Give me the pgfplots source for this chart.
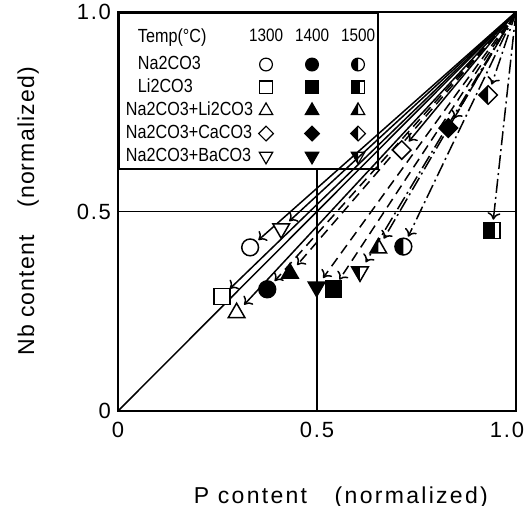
\documentclass[border=0pt]{standalone}
\usepackage{fontspec}
\setmainfont{Liberation Sans}
\newfontfamily\legfont[FakeStretch=0.85]{Liberation Sans}
\usepackage{pgfplots}
\pgfplotsset{compat=1.18}
\usetikzlibrary{arrows.meta}

% marks: open/filled via fill colour, h* = left half filled
\pgfdeclareplotmark{hcirc}{%
  \pgfpathmoveto{\pgfqpoint{0pt}{\pgfplotmarksize}}%
  \pgfpatharc{90}{270}{\pgfplotmarksize}%
  \pgfpathclose
  \pgfusepathqfill
  \pgfpathcircle{\pgfpointorigin}{\pgfplotmarksize}%
  \pgfusepathqstroke
}
\pgfdeclareplotmark{hsq}{%
  \pgfpathrectangle{\pgfqpoint{-\pgfplotmarksize}{-\pgfplotmarksize}}{\pgfqpoint{1.3\pgfplotmarksize}{2\pgfplotmarksize}}%
  \pgfusepathqfill
  \pgfpathrectangle{\pgfqpoint{-\pgfplotmarksize}{-\pgfplotmarksize}}{\pgfqpoint{2\pgfplotmarksize}{2\pgfplotmarksize}}%
  \pgfusepathqstroke
}
\pgfdeclareplotmark{tri}{%
  \pgfpathmoveto{\pgfqpoint{0pt}{1.2\pgfplotmarksize}}%
  \pgfpathlineto{\pgfqpoint{-1.04\pgfplotmarksize}{-0.6\pgfplotmarksize}}%
  \pgfpathlineto{\pgfqpoint{1.04\pgfplotmarksize}{-0.6\pgfplotmarksize}}%
  \pgfpathclose
  \pgfusepathqfillstroke
}
\pgfdeclareplotmark{htri}{%
  \pgfpathmoveto{\pgfqpoint{0pt}{1.2\pgfplotmarksize}}%
  \pgfpathlineto{\pgfqpoint{-1.04\pgfplotmarksize}{-0.6\pgfplotmarksize}}%
  \pgfpathlineto{\pgfqpoint{0pt}{-0.6\pgfplotmarksize}}%
  \pgfpathclose
  \pgfusepathqfill
  \pgfpathmoveto{\pgfqpoint{0pt}{1.2\pgfplotmarksize}}%
  \pgfpathlineto{\pgfqpoint{-1.04\pgfplotmarksize}{-0.6\pgfplotmarksize}}%
  \pgfpathlineto{\pgfqpoint{1.04\pgfplotmarksize}{-0.6\pgfplotmarksize}}%
  \pgfpathclose
  \pgfusepathqstroke
}
\pgfdeclareplotmark{dtri}{%
  \pgfpathmoveto{\pgfqpoint{0pt}{-1.2\pgfplotmarksize}}%
  \pgfpathlineto{\pgfqpoint{-1.04\pgfplotmarksize}{0.6\pgfplotmarksize}}%
  \pgfpathlineto{\pgfqpoint{1.04\pgfplotmarksize}{0.6\pgfplotmarksize}}%
  \pgfpathclose
  \pgfusepathqfillstroke
}
\pgfdeclareplotmark{hdtri}{%
  \pgfpathmoveto{\pgfqpoint{0pt}{-1.2\pgfplotmarksize}}%
  \pgfpathlineto{\pgfqpoint{-1.04\pgfplotmarksize}{0.6\pgfplotmarksize}}%
  \pgfpathlineto{\pgfqpoint{0pt}{0.6\pgfplotmarksize}}%
  \pgfpathclose
  \pgfusepathqfill
  \pgfpathmoveto{\pgfqpoint{0pt}{-1.2\pgfplotmarksize}}%
  \pgfpathlineto{\pgfqpoint{-1.04\pgfplotmarksize}{0.6\pgfplotmarksize}}%
  \pgfpathlineto{\pgfqpoint{1.04\pgfplotmarksize}{0.6\pgfplotmarksize}}%
  \pgfpathclose
  \pgfusepathqstroke
}
\pgfdeclareplotmark{dia}{%
  \pgfpathmoveto{\pgfqpoint{0pt}{1.15\pgfplotmarksize}}%
  \pgfpathlineto{\pgfqpoint{-1.15\pgfplotmarksize}{0pt}}%
  \pgfpathlineto{\pgfqpoint{0pt}{-1.15\pgfplotmarksize}}%
  \pgfpathlineto{\pgfqpoint{1.15\pgfplotmarksize}{0pt}}%
  \pgfpathclose
  \pgfusepathqfillstroke
}
\pgfdeclareplotmark{hdia}{%
  \pgfpathmoveto{\pgfqpoint{0pt}{1.15\pgfplotmarksize}}%
  \pgfpathlineto{\pgfqpoint{-1.15\pgfplotmarksize}{0pt}}%
  \pgfpathlineto{\pgfqpoint{0pt}{-1.15\pgfplotmarksize}}%
  \pgfpathclose
  \pgfusepathqfill
  \pgfpathmoveto{\pgfqpoint{0pt}{1.15\pgfplotmarksize}}%
  \pgfpathlineto{\pgfqpoint{-1.15\pgfplotmarksize}{0pt}}%
  \pgfpathlineto{\pgfqpoint{0pt}{-1.15\pgfplotmarksize}}%
  \pgfpathlineto{\pgfqpoint{1.15\pgfplotmarksize}{0pt}}%
  \pgfpathclose
  \pgfusepathqstroke
}

\pgfplotsset{
  run/.style={line width=0.75pt, -{To[length=3.5pt,width=6.5pt]}, shorten >=5.5pt,
    mark repeat=2, mark phase=2, mark size=4pt},
  t1300/.style={run, solid, mark options={solid, fill=white}},
  t1400/.style={run, dash pattern=on 5pt off 3pt, mark options={solid, fill=black}},
  t1500/.style={run, dash pattern=on 7pt off 2pt on 1pt off 2pt, mark options={solid, fill=black}},
  hdr/.style={legend image code/.code={\path (0pt,0pt) (10pt,0pt);
      \node[overlay, anchor=center, inner sep=0pt, font=\legfont\fontsize{9}{10}\selectfont]
        at (5pt,0pt) {#1};}},
  % name cell of the legend (no image)
  name/.style={legend image code/.code={\path (0pt,-#1) (0pt,#1);}},
}

\begin{document}
\begin{tikzpicture}
\begin{axis}[
  scale only axis, width=199pt, height=199.5pt,
  xmin=0, xmax=1, ymin=0, ymax=1,
  xtick={0,0.5,1}, xticklabels={0,0.5,1.0\hspace*{9pt}},
  ytick={0,0.5,1}, yticklabels={0,0.5,1.0},
  major tick length=0pt,
  axis line style={line width=1pt},
  ticklabel style={font=\fontsize{11}{13}\selectfont\addfontfeature{LetterSpace=8}},
  xticklabel style={yshift=-2pt},
  /pgf/number format/assume math mode=true,
  xlabel={P content\hspace{1.2em}(normalized)},
  ylabel={Nb content\hspace{1.2em}(normalized)},
  every axis x label/.style={at={(axis description cs:0.56,-0.218)}, anchor=center,
    font=\fontsize{11.5}{13}\selectfont\addfontfeature{LetterSpace=10}},
  every axis y label/.style={at={(axis description cs:-0.226,0.5)}, anchor=center, rotate=90,
    font=\fontsize{11.5}{13}\selectfont\addfontfeature{LetterSpace=5}},
  legend columns=4,
  legend cell align=left,
  legend image code/.code={%
      \draw[only marks, mark repeat=2, mark phase=2, mark size=3.2pt, line width=0.6pt]
      plot coordinates {(0pt,0pt) (5pt,0pt) (10pt,0pt)};},
  legend style={at={(axis description cs:0,1)}, anchor=north west,
    draw=black, line width=1pt, fill=none,
    font=\legfont\fontsize{9.5}{10.5}\selectfont,
    inner sep=1.5pt, row sep=1.2pt, nodes={inner sep=1pt}},
]
% reference lines
\addplot[forget plot, line width=0.75pt] coordinates {(0,0) (1,1)};
\addplot[forget plot, line width=0.75pt] coordinates {(0,0.5) (1,0.5)};
\addplot[forget plot, line width=0.75pt] coordinates {(0.5,0) (0.5,0.609)};

% legend header
\addlegendimage{legend image code/.code={\path (0pt,-7pt) (0pt,10pt);}}
\addlegendentry{\hspace*{6pt}Temp(°C)}
\addlegendimage{hdr=1300}\addlegendentry{\hspace*{10pt}}
\addlegendimage{hdr=1400}\addlegendentry{\hspace*{10pt}}
\addlegendimage{hdr=1500}\addlegendentry{\hspace*{1pt}}

% Na2CO3
\addlegendimage{name=0pt}\addlegendentry{\hspace*{6pt}Na2CO3}
\addplot[t1300, mark=*, mark size=4.2pt] coordinates {(1,1) (0.332,0.410)};
\addlegendentry{\hspace*{10pt}}
\addplot[t1400, mark=*, mark size=4.2pt] coordinates {(1,1) (0.375,0.305)};
\addlegendentry{\hspace*{10pt}}
\addplot[t1500, mark=hcirc, mark size=4.2pt] coordinates {(1,1) (0.717,0.412)};
\addlegendentry{\hspace*{1pt}}
% Li2CO3
\addlegendimage{name=0pt}\addlegendentry{\hspace*{6pt}Li2CO3}
\addplot[t1300, mark=square*] coordinates {(1,1) (0.261,0.287)};
\addlegendentry{\hspace*{10pt}}
\addplot[t1400, mark=square*] coordinates {(1,1) (0.541,0.306)};
\addlegendentry{\hspace*{10pt}}
\addplot[t1500, mark=hsq] coordinates {(1,1) (0.940,0.452)};
\addlegendentry{\hspace*{1pt}}
% Na2CO3+Li2CO3
\addlegendimage{name=0pt}\addlegendentry{Na2CO3+Li2CO3}
\addplot[t1300, mark=tri] coordinates {(1,1) (0.298,0.246)};
\addlegendentry{\hspace*{10pt}}
\addplot[t1400, mark=tri] coordinates {(1,1) (0.432,0.345)};
\addlegendentry{\hspace*{10pt}}
\addplot[t1500, mark=htri] coordinates {(1,1) (0.654,0.408)};
\addlegendentry{\hspace*{1pt}}
% Na2CO3+CaCO3
\addlegendimage{name=0pt}\addlegendentry{Na2CO3+CaCO3}
\addplot[t1300, mark=dia] coordinates {(1,1) (0.713,0.654)};
\addlegendentry{\hspace*{10pt}}
\addplot[t1400, mark=dia] coordinates {(1,1) (0.830,0.709)};
\addlegendentry{\hspace*{10pt}}
\addplot[t1500, mark=hdia] coordinates {(1,1) (0.930,0.792)};
\addlegendentry{\hspace*{1pt}}
% Na2CO3+BaCO3
\addlegendimage{name=0pt}\addlegendentry{Na2CO3+BaCO3}
\addplot[t1300, mark=dtri] coordinates {(1,1) (0.410,0.457)};
\addlegendentry{\hspace*{10pt}}
\addplot[t1400, mark=dtri] coordinates {(1,1) (0.499,0.311)};
\addlegendentry{\hspace*{10pt}}
\addplot[t1500, mark=hdtri] coordinates {(1,1) (0.608,0.349)};
\addlegendentry{\hspace*{1pt}}
\end{axis}
\pgfresetboundingbox
\path[use as bounding box] (-59pt,-47.5pt) rectangle (206pt,205.5pt);
\end{tikzpicture}
\end{document}
